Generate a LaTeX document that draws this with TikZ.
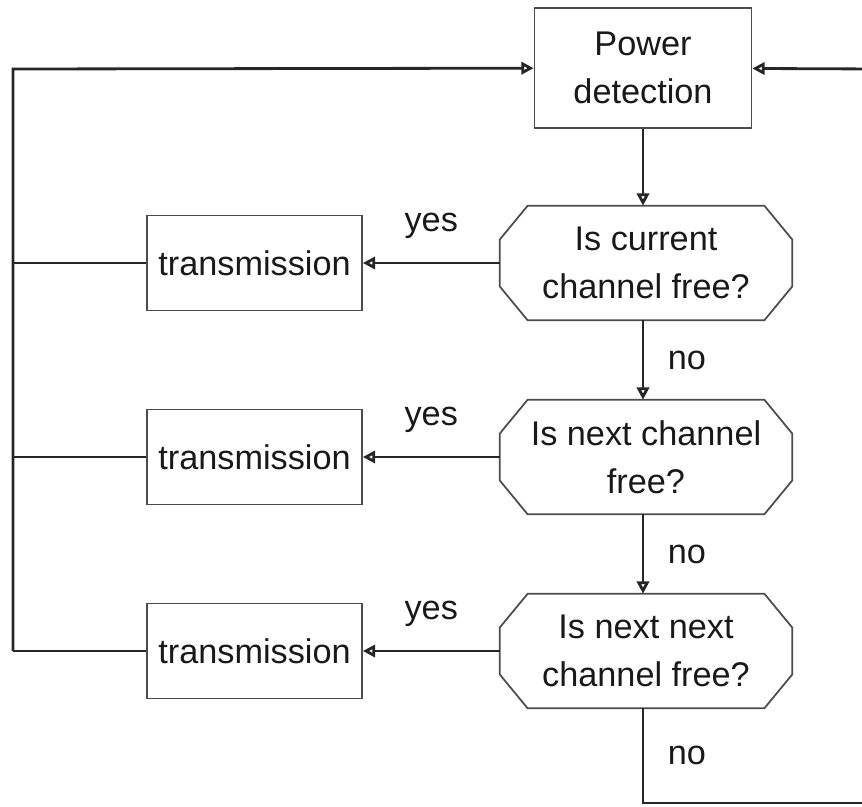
\documentclass[tikz,border=0pt]{standalone}
\usepackage{fontspec}
\setmainfont{Liberation Sans}
\usetikzlibrary{arrows.meta}

\begin{document}
\begin{tikzpicture}[x=0.02cm, y=-0.02cm,
	every node/.style={font=\fontsize{19.5}{27.5}\selectfont, align=center, text=black!90},
	box/.style={draw=black!70, line width=1pt, inner sep=0pt},
	decision/.style={inner sep=0pt, minimum width=5.84cm, minimum height=2.28cm},
	sendbox/.style={box, minimum width=4.3cm, minimum height=1.9cm},
	link/.style={line width=1.6pt, black!85},
	tip/.style={-{Triangle[open, length=7pt, width=7pt]}}]
	\clip (0,0) rectangle (862,806);
	
	\node [box, minimum width=4.34cm, minimum height=2.4cm] (power) at (643,68) {Power\\detection};
	
	\coordinate (lt) at (13,69);
	\coordinate (bot) at (643,803);
	\coordinate (rb) at (880,803);
	\coordinate (rt) at (880,69);
	
	\foreach \y/\q [count=\i] in {263/{Is current\\channel free?}, 457/{Is next channel\\free?}, 651/{Is next next\\channel free?}}{
		\node [decision] (d\i) at (646,\y) {\q};
		% chamfered outline
		\draw [box] ([xshift=0.56cm]d\i.north west) -- ([xshift=-0.56cm]d\i.north east)
			-- ([yshift=-0.68cm]d\i.north east) -- ([yshift=0.68cm]d\i.south east)
			-- ([xshift=-0.56cm]d\i.south east) -- ([xshift=0.56cm]d\i.south west)
			-- ([yshift=0.68cm]d\i.south west) -- ([yshift=-0.68cm]d\i.north west) -- cycle;
		\node [sendbox] (t\i) at (254.5,\y) {transmission};
		\draw [link, tip] (d\i) -- node [midway, yshift=0.75cm] {yes} (t\i);
		\draw [link] (t\i) -- (t\i -| lt);}
	
	\draw [link, tip] (power) -- (power |- d1.north);
	\draw [link, tip] (d1.south -| power) -- node [midway, xshift=0.88cm] {no} (d2.north -| power);
	\draw [link, tip] (d2.south -| power) -- node [midway, xshift=0.88cm] {no} (d3.north -| power);
	\draw [link] (d3.south -| power) -- node [midway, xshift=0.88cm] {no} (bot) -- (rb) -- (rt);
	\draw [link, tip] (rt) -- (power);
	\draw [link, tip] (t3 -| lt) -- (lt) -- (power);
\end{tikzpicture}
\end{document}
